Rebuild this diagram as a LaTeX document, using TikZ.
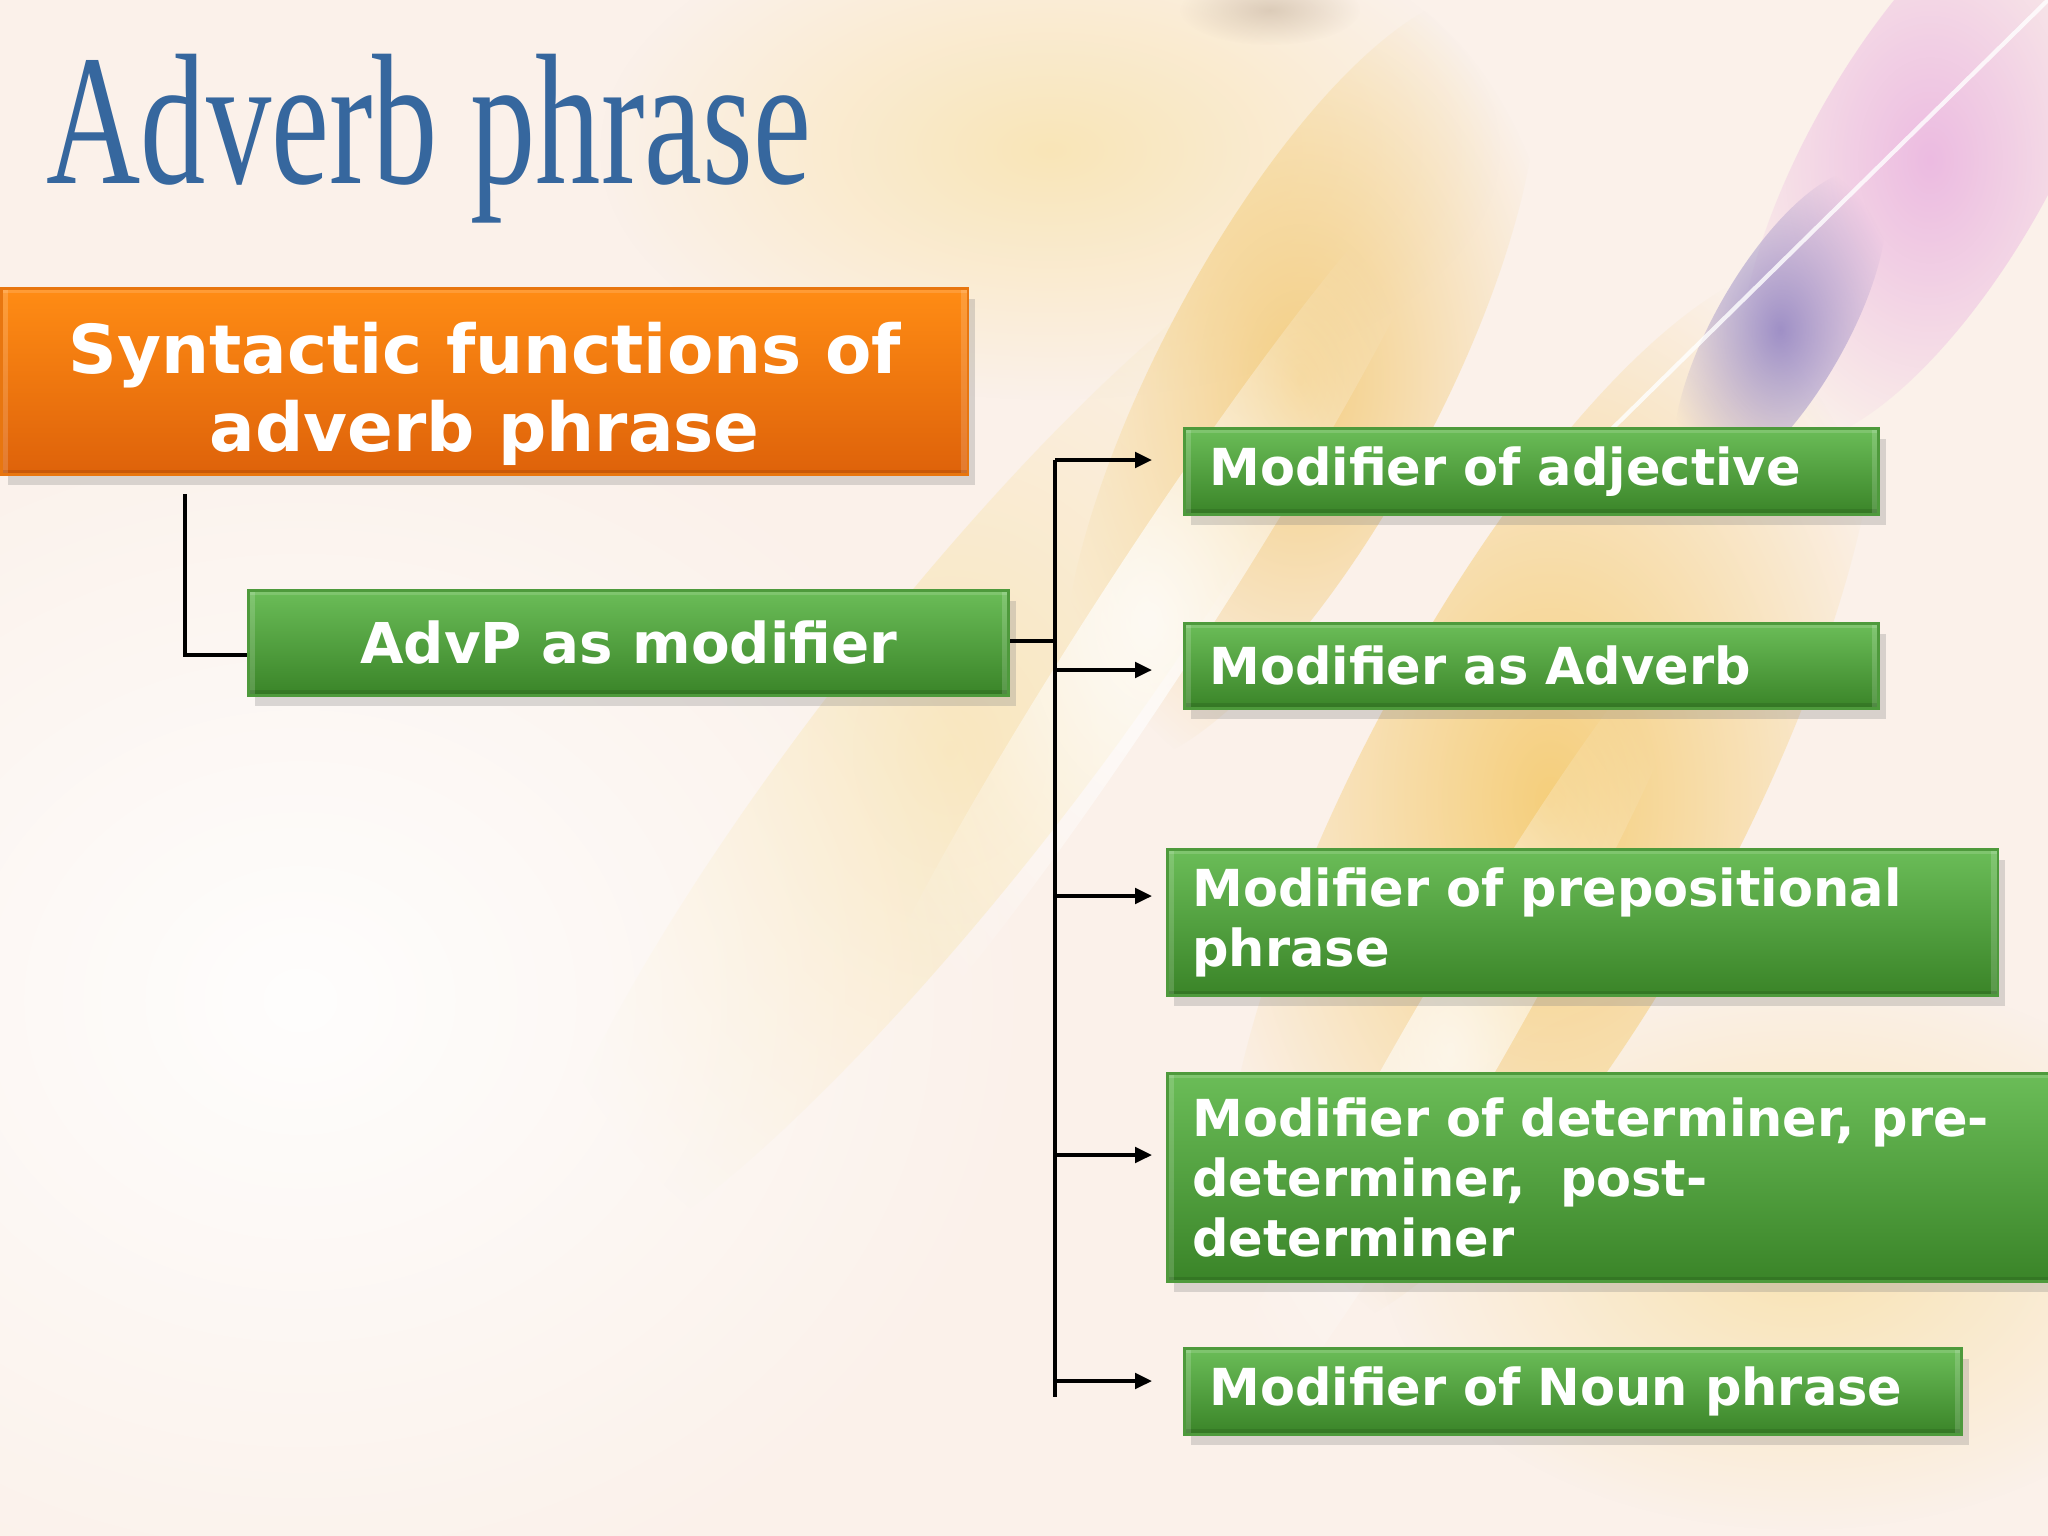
\documentclass[tikz,border=0pt]{standalone}
\usepackage{fontspec}
\setmainfont{DejaVu Sans}
\newfontfamily\titlefont{Liberation Serif}
\usetikzlibrary{arrows.meta,shadows,fadings}
\tikzfading[name=softglow, inner color=transparent!0, outer color=transparent!100]
\definecolor{bgbase}{HTML}{FBF1EA}
\definecolor{gtop}{HTML}{6BBD58}
\definecolor{gbot}{HTML}{3A8428}
\definecolor{gedge}{HTML}{4E9A3C}
\definecolor{otop}{HTML}{FF8C14}
\definecolor{obot}{HTML}{DE620A}
\definecolor{oedge}{HTML}{E8760F}
\definecolor{titleblue}{HTML}{36679E}
\tikzset{
  bevel/.style={path picture={
    \fill[white, opacity=0.16] (path picture bounding box.north west) rectangle ([xshift=0.07cm]path picture bounding box.south west);
    \fill[white, opacity=0.16] (path picture bounding box.north east) rectangle ([xshift=-0.07cm]path picture bounding box.south east);
    \fill[white, opacity=0.14] (path picture bounding box.north west) rectangle ([yshift=-0.05cm]path picture bounding box.north east);
    \fill[black, opacity=0.10] (path picture bounding box.south west) rectangle ([yshift=0.05cm]path picture bounding box.south east);}},
  boxbase/.style={rectangle, anchor=north west, text=white, line width=0.8pt, bevel,
    drop shadow={shadow xshift=2pt, shadow yshift=-3pt, opacity=0.28}},
  gbox/.style={boxbase, top color=gtop, bottom color=gbot, draw=gedge,
    font=\fontsize{14.5}{17}\selectfont\bfseries, inner xsep=0.25cm, align=left},
  obox/.style={boxbase, top color=otop, bottom color=obot, draw=oedge},
  otext/.style={text=white, font=\fontsize{19.2}{22.2}\selectfont\bfseries, align=center, anchor=center},
  abox/.style={boxbase, top color=gtop, bottom color=gbot, draw=gedge,
    font=\fontsize{16}{19}\selectfont\bfseries, align=center},
  conn/.style={line width=1pt, black},
  arr/.style={conn, -{Triangle[length=4.8pt,width=4.4pt]}},
  glow/.style={path fading=softglow}
}
\begin{document}
\begin{tikzpicture}[x=0.01cm, y=-0.01cm]
\useasboundingbox (0,0) rectangle (2048,1536);
% background
\fill[bgbase] (0,0) rectangle (2048,1536);
\fill[glow, color={rgb,255:red,248;green,222;blue,150}, opacity=0.6] (1050,150) ellipse [x radius=450, y radius=250];
\fill[glow, color={rgb,255:red,190;green,170;blue,150}, opacity=0.5] (1270,10) ellipse [x radius=90, y radius=35];
\fill[glow, color={rgb,255:red,242;green,198;blue,106}, opacity=0.8, rotate around={62:(1300,380)}] (1300,380) ellipse [x radius=430, y radius=140];
\fill[glow, color={rgb,255:red,244;green,198;blue,96}, opacity=0.8, rotate around={62:(1550,800)}] (1550,800) ellipse [x radius=600, y radius=190];
\fill[glow, color={rgb,255:red,248;green,224;blue,160}, opacity=0.6, rotate around={52:(950,750)}] (950,750) ellipse [x radius=650, y radius=130];
\fill[glow, color={rgb,255:red,247;green,218;blue,140}, opacity=0.6] (1800,1250) ellipse [x radius=420, y radius=280];
\fill[glow, color={rgb,255:red,231;green,169;blue,222}, opacity=0.75, rotate around={60:(1930,160)}] (1930,160) ellipse [x radius=320, y radius=120];
\fill[glow, color={rgb,255:red,143;green,128;blue,192}, opacity=0.85, rotate around={60:(1780,330)}] (1780,330) ellipse [x radius=180, y radius=65];
\fill[glow, white, opacity=0.8, rotate around={57:(1150,620)}] (1150,620) ellipse [x radius=550, y radius=55];
\fill[glow, white, opacity=0.7, rotate around={60:(1450,1050)}] (1450,1050) ellipse [x radius=500, y radius=50];
\fill[glow, white, opacity=0.9] (300,1000) ellipse [x radius=750, y radius=650];
\draw[white, opacity=0.8, line width=1.2pt] (2048,0) -- (1560,480);
% title
\node[anchor=base west, text=titleblue, font=\titlefont\fontsize{53}{60}\selectfont, inner sep=0] (title) at (46,183)
  {\scalebox{0.70}[1]{Adverb phrase}};
% boxes
\node[obox, minimum width=9.66cm, minimum height=1.86cm,
  label={[otext, yshift=-0.12cm]center:Syntactic functions of\\adverb phrase}] (root) at (0,287) {};
\node[abox, minimum width=7.60cm, minimum height=1.05cm] (advp) at (247,589) {AdvP as modifier};
\node[gbox, minimum width=6.94cm, minimum height=0.86cm, text width=6.44cm] (m1) at (1183,427) {Modifier of adjective};
\node[gbox, minimum width=6.94cm, minimum height=0.85cm, text width=6.44cm] (m2) at (1183,622) {Modifier as Adverb};
\node[gbox, minimum width=8.30cm, minimum height=1.46cm, text width=7.80cm] (m3) at (1166,848) {Modifier of prepositional\\phrase};
\node[gbox, minimum width=9.20cm, minimum height=2.08cm, text width=8.70cm] (m4) at (1166,1072) {Modifier of determiner, pre-\\determiner,\ \ post-\\determiner};
\node[gbox, minimum width=7.77cm, minimum height=0.86cm, text width=7.27cm] (m5) at (1183,1347) {Modifier of Noun phrase};
% connectors
\coordinate (r1) at (185,494);
\coordinate (t1) at (1055,460);
\coordinate (t2) at (1055,1397);
\coordinate (a1) at (1152,460);
\coordinate (a2) at (1152,670);
\coordinate (a3) at (1152,896);
\coordinate (a4) at (1152,1155);
\coordinate (a5) at (1152,1381);
\draw[conn] (r1) |- ([yshift=-0.12cm]advp.west);
\draw[conn] ([yshift=0.02cm]advp.east) -- ([yshift=0.02cm]advp.east -| t1);
\draw[conn] (t1) -- (t2);
\draw[arr] (t1) -- (a1);
\draw[arr] (a2 -| t1) -- (a2);
\draw[arr] (a3 -| t1) -- (a3);
\draw[arr] (a4 -| t1) -- (a4);
\draw[arr] (a5 -| t1) -- (a5);
\end{tikzpicture}
\end{document}
